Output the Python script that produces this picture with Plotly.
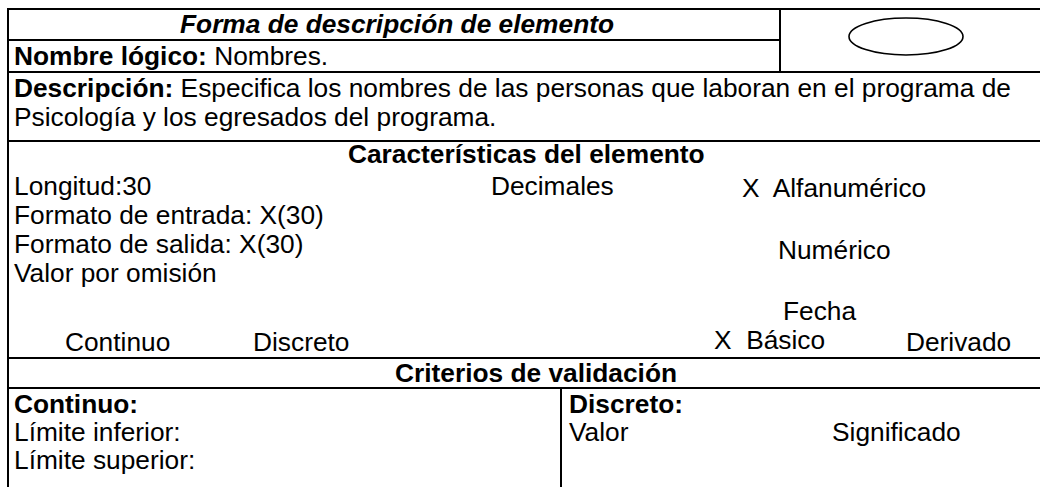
import plotly.graph_objects as go

# ---- content (form texts) ----
title_text = "Forma de descripción de elemento"
nombre_label = "Nombre lógico:"
nombre_value = "Nombres."
desc_label = "Descripción:"
desc_line1 = "Especifica los nombres de las personas que laboran en el programa de"
desc_line2 = "Psicología y los egresados del programa."
section1 = "Características del elemento"
left_items = ["Longitud:30", "Formato de entrada: X(30)", "Formato de salida: X(30)", "Valor por omisión"]
type_items = ["Decimales", "X  Alfanumérico", "Numérico", "Fecha"]
kind_items = ["Continuo", "Discreto", "X  Básico", "Derivado"]
section2 = "Criterios de validación"
cont_label = "Continuo:"
cont_items = ["Límite inferior:", "Límite superior:"]
disc_label = "Discreto:"
disc_items = ["Valor", "Significado"]

# ---- layout geometry (pixels) ----
W, H = 1040, 487
L, R = 8, 1046
FS = 26.3
FONT = "Liberation Sans, Arial, sans-serif"

fig = go.Figure()

shapes = []
def hline(y, x0=L, x1=R, w=2):
    shapes.append(dict(type="line", x0=x0, x1=x1, y0=y, y1=y, xref="x", yref="y",
                       line=dict(color="black", width=w)))
def vline(x, y0, y1, w=2):
    shapes.append(dict(type="line", x0=x, x1=x, y0=y0, y1=y1, xref="x", yref="y",
                       line=dict(color="black", width=w)))

hline(9)
hline(40, L, 780)
vline(780, 9, 72)
hline(72)
hline(141)
hline(358)
hline(388)
vline(L, 8, H + 2)
vline(561, 388, H + 2)
shapes.append(dict(type="circle", x0=849, x1=963, y0=18, y1=55, xref="x", yref="y",
                   line=dict(color="black", width=1.6)))

anns = []
def txt(x, y, s, anchor="left"):
    anns.append(dict(x=x, y=y, text=s, xref="x", yref="y", showarrow=False,
                     xanchor=anchor, yanchor="middle",
                     font=dict(family=FONT, size=FS, color="black")))

TX = 12
txt(397, 24, f"<b><i>{title_text}</i></b>", "center")
txt(TX, 56, f"<b>{nombre_label}</b> {nombre_value}")
txt(TX, 88, f"<b>{desc_label}</b> {desc_line1}")
txt(TX, 117, desc_line2)
txt(526, 154, f"<b>{section1}</b>", "center")

left_y = [186, 215, 244, 273]
for s, y in zip(left_items, left_y):
    txt(TX, y, s)

type_pos = [(489, 186), (740, 188), (776, 250), (781, 311)]
for s, (x, y) in zip(type_items, type_pos):
    txt(x, y, s)

kind_pos = [(63, 342), (251, 342), (712, 340), (904, 342)]
for s, (x, y) in zip(kind_items, kind_pos):
    txt(x, y, s)

txt(536, 373, f"<b>{section2}</b>", "center")
txt(TX, 404, f"<b>{cont_label}</b>")
for s, y in zip(cont_items, [432, 460]):
    txt(TX, y, s)
txt(567, 404, f"<b>{disc_label}</b>")
for s, x in zip(disc_items, [567, 830]):
    txt(x, 432, s)

fig.update_layout(
    width=W, height=H,
    margin=dict(l=0, r=0, t=0, b=0),
    paper_bgcolor="white", plot_bgcolor="white",
    xaxis=dict(range=[0, W], visible=False, fixedrange=True),
    yaxis=dict(range=[H, 0], visible=False, fixedrange=True),
    shapes=shapes, annotations=anns, showlegend=False,
)
fig.write_html(
    "out.html",
    config={"displayModeBar": False},
    post_script="document.body.style.margin='0px';document.body.style.overflow='hidden';",
)
